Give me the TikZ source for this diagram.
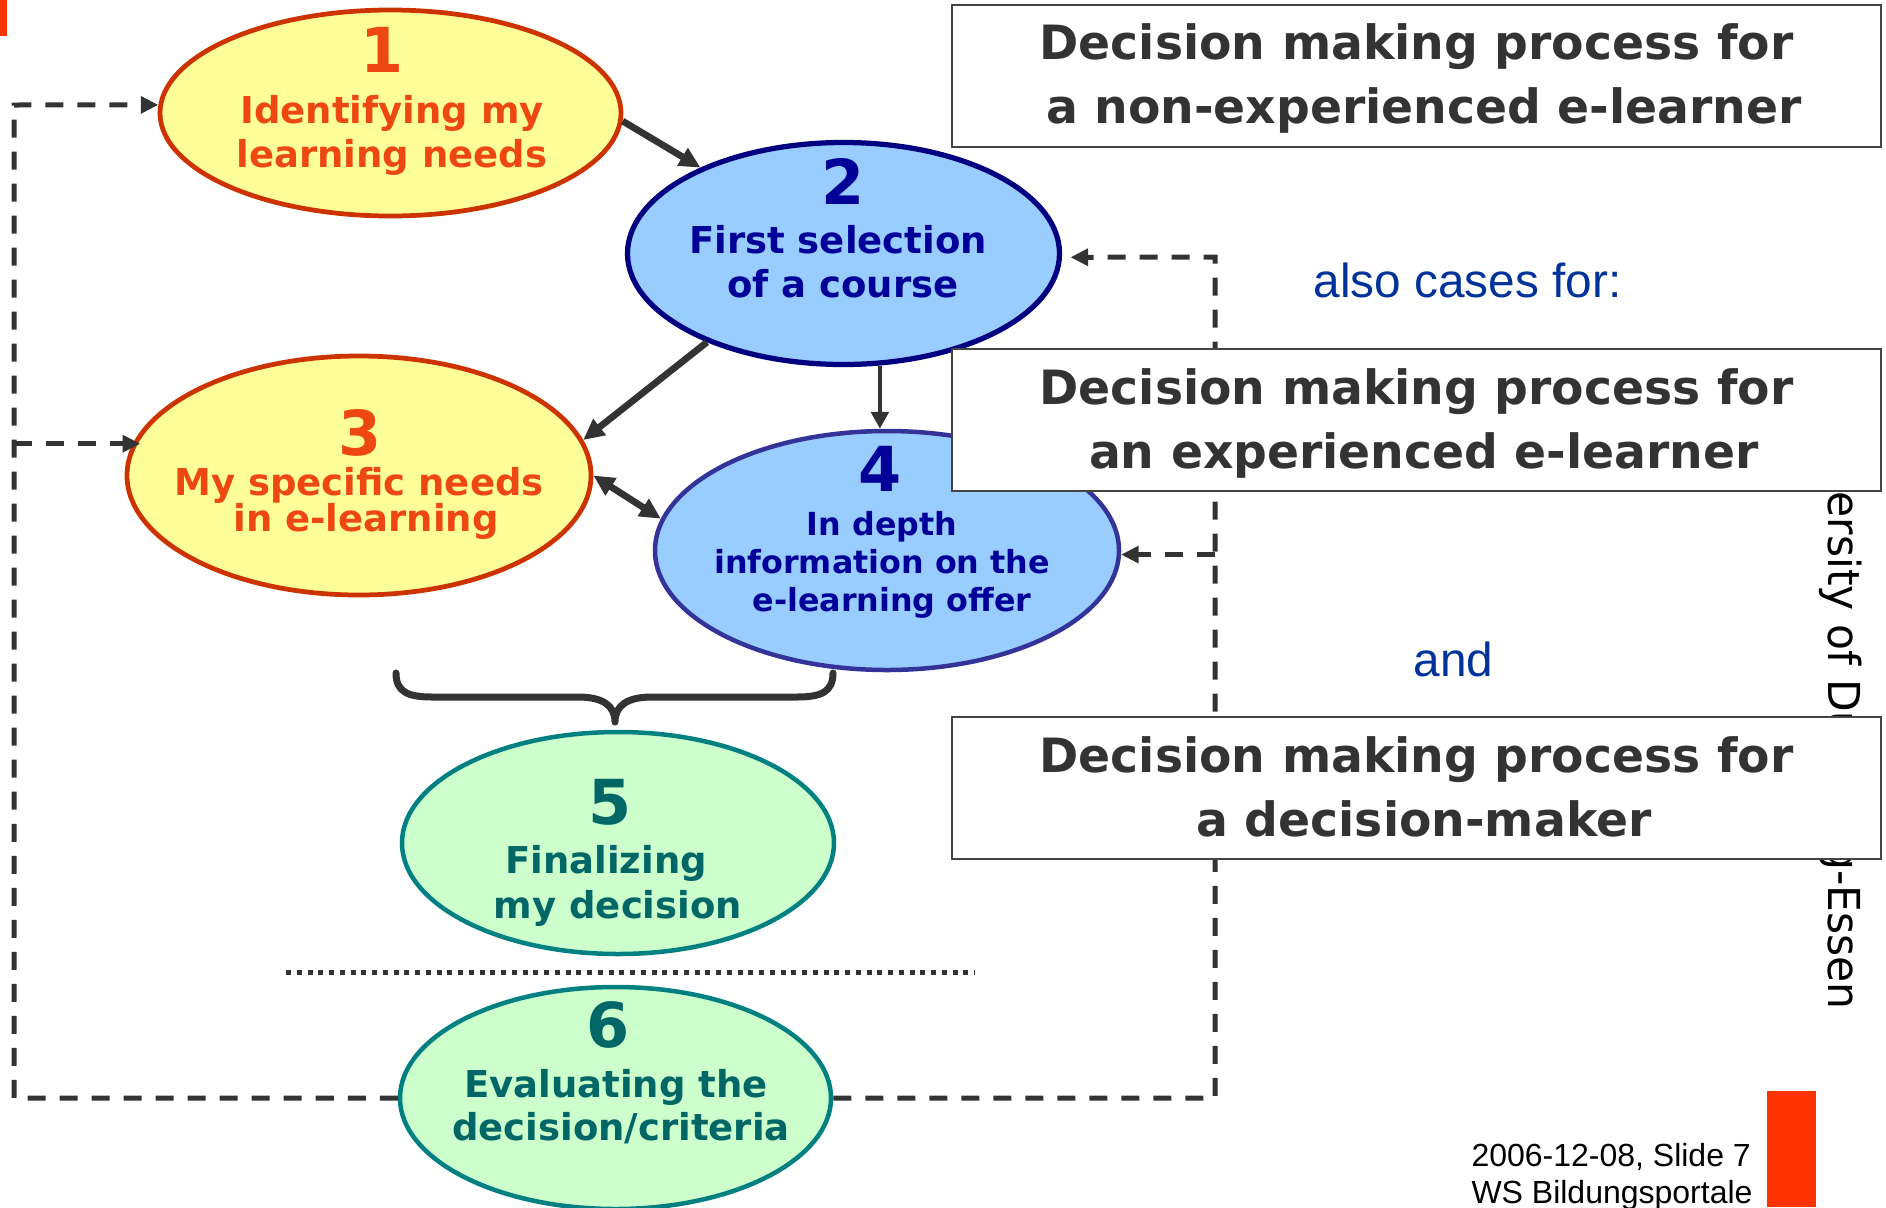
\documentclass[tikz,border=0pt]{standalone}
\usepackage{fontspec}
\usetikzlibrary{arrows.meta,shapes.geometric}
\newfontfamily\djv{DejaVu Sans}
\newfontfamily\arl{Liberation Sans}
\newfontfamily\vtf[FakeStretch=0.965]{DejaVu Sans}
\definecolor{ored}{HTML}{CC3300}
\definecolor{otext}{HTML}{EE4812}
\definecolor{yfill}{HTML}{FFFF99}
\definecolor{bfill}{HTML}{99CCFF}
\definecolor{navyb}{HTML}{000080}
\definecolor{btext}{HTML}{000099}
\definecolor{purp}{HTML}{333399}
\definecolor{gfill}{HTML}{CCFFCC}
\definecolor{tealb}{HTML}{008080}
\definecolor{gtext}{HTML}{006666}
\definecolor{dgray}{HTML}{333333}
\definecolor{boxborder}{HTML}{444444}
\definecolor{boxtext}{HTML}{333333}
\definecolor{blueb}{HTML}{003399}
\definecolor{redb}{HTML}{FF3300}
\tikzset{
  ellY/.style={ellipse, inner sep=0pt, fill=yfill, draw=ored, line width=1.9pt},
  ellB/.style={ellipse, inner sep=0pt, fill=bfill, draw=navyb, line width=2.1pt},
  ellP/.style={ellipse, inner sep=0pt, fill=bfill, draw=purp, line width=1.8pt},
  ellG/.style={ellipse, inner sep=0pt, fill=gfill, draw=tealb, line width=1.8pt},
  num/.style={anchor=base, inner sep=0pt, font=\djv\bfseries\fontsize{24.8pt}{24.8pt}\selectfont},
  lbl/.style={anchor=base, inner sep=0pt, font=\djv\bfseries\fontsize{14.8pt}{14.8pt}\selectfont},
  lblsmall/.style={anchor=base, inner sep=0pt, font=\djv\bfseries\fontsize{12.7pt}{12.7pt}\selectfont},
  sarrow/.style={dgray, line width=2.7pt, -{Triangle[length=8.4pt,width=7.8pt]}},
  tarrow/.style={dgray, line width=1.7pt, -{Triangle[length=6.8pt,width=7pt]}},
  darrow/.style={dgray, line width=2.7pt, {Triangle[length=8.4pt,width=7.8pt]}-{Triangle[length=8.4pt,width=7.8pt]}},
  dline/.style={dgray, line width=2pt, dash pattern=on 7.2pt off 5.6pt},
  dtip/.style={-{Triangle[length=7pt,width=6.6pt]}},
  boxst/.style={draw=boxborder, fill=white, line width=0.8pt, inner sep=0pt, minimum width=371.6pt, minimum height=56.8pt},
  boxtxt/.style={anchor=base, inner sep=0pt, text=boxtext, font=\djv\bfseries\fontsize{18.9pt}{18.9pt}\selectfont},
  bluetxt/.style={anchor=base west, inner sep=0pt, text=blueb, font=\arl\fontsize{19.1pt}{19.1pt}\selectfont},
  foot/.style={anchor=base west, inner sep=0pt, text=black, font=\arl\fontsize{12.8pt}{12.8pt}\selectfont},
}
\begin{document}
\begin{tikzpicture}[x=0.4pt,y=-0.4pt]
\useasboundingbox (0,0) rectangle (1886,1207);
\clip (0,0) rectangle (1886,1207);
\fill[white] (0,0) rectangle (1886,1207);
% orange marks
\fill[redb] (0,0) rectangle (7,36);
\fill[redb] (1767,1091) rectangle (1816,1207);
% vertical text
\node[anchor=base east, inner sep=0pt, rotate=-90, font=\vtf\fontsize{17.6pt}{17.6pt}\selectfont] (univ) at (1828,1010) {University of Duisburg-Essen};
% ellipses
\node[ellY, minimum width=184.4pt, minimum height=82.4pt] (e1) at (390.5,113) {};
\node[ellB, minimum width=172.8pt, minimum height=88.8pt] (e2) at (843.5,253.5) {};
\node[ellY, minimum width=185.6pt, minimum height=95.6pt] (e3) at (359,475.5) {};
\node[ellP, minimum width=185.6pt, minimum height=95.6pt] (e4) at (887,550.5) {};
\node[ellG, minimum width=172.8pt, minimum height=88.8pt] (e5) at (618,843) {};
\node[ellG, minimum width=172.4pt, minimum height=88.8pt] (e6) at (615.5,1098) {};
% dashed feedback loops
\coordinate (lb) at (14,1098);
\coordinate (lt) at (14,105);
\coordinate (rb) at (1215,1098);
\coordinate (rt) at (1215,257);
\draw[dline, dtip] (e6.west) -- (lb) -- (lt) -- (e1.178);
\draw[dline, dtip, shorten >=-3pt] (lt |- e3.172) -- (e3.172);
\draw[dline, dtip, shorten >=3.4pt] (e6.east) -- (rb) -- (rt) -- (e2.-1);
\draw[dline, dtip] (rt |- e4.-1) -- (e4.-1);
% solid arrows
\draw[sarrow] (e1.-2) -- (e2.149);
\draw[sarrow] (e2.213) -- (e3.9);
\draw[tarrow] (e2.-72) -- (e2.-72 |- e4.north);
\draw[darrow] (e3.0) -- (e4.172);
% brace
\draw[dgray, line width=2.8pt, line cap=round, line join=round]
  (396,673) .. controls (396,692) and (408,697) .. (432,697) -- (578,697)
  .. controls (602,697) and (615,705) .. (615,722)
  .. controls (615,705) and (628,697) .. (652,697) -- (797,697)
  .. controls (821,697) and (833,692) .. (833,673);
% dotted separator
\draw[dgray, line width=2pt, dash pattern=on 2pt off 2.3pt] (286,972) -- (975,972);
% ellipse texts
\node[num, text=otext] (n1) at (382,72) {1};
\node[lbl, text=otext] (t1a) at (392,123) {Identifying my};
\node[lbl, text=otext] (t1b) at (392,167) {learning needs};
\node[num, text=btext] (n2) at (843,204) {2};
\node[lbl, text=btext] (t2a) at (838,253) {First selection};
\node[lbl, text=btext] (t2b) at (843,297) {of a course};
\node[num, text=otext] (n3) at (360,455) {3};
\node[lbl, text=otext] (t3a) at (359,495) {My specific needs};
\node[lbl, text=otext] (t3b) at (366,531) {in e-learning};
\node[num, text=btext] (n4) at (880,491) {4};
\node[lblsmall, text=btext] (t4a) at (882,535) {In depth};
\node[lblsmall, text=btext] (t4b) at (882,573) {information on the};
\node[lblsmall, text=btext] (t4c) at (892,611) {e-learning offer};
\node[num, text=gtext] (n5) at (610,824) {5};
\node[lbl, text=gtext] (t5a) at (606,873) {Finalizing};
\node[lbl, text=gtext] (t5b) at (618,918) {my decision};
\node[num, text=gtext] (n6) at (608,1047) {6};
\node[lbl, text=gtext] (t6a) at (616,1097) {Evaluating the};
\node[lbl, text=gtext] (t6b) at (621,1140) {decision/criteria};
% boxes
\node[boxst] (b1) at (1416.5,75.5) {};
\node[boxtxt] (b1a) at (1416.5,59) {Decision making process for};
\node[boxtxt] (b1b) at (1424,123) {a non-experienced e-learner};
\node[boxst] (b2) at (1416.5,420) {};
\node[boxtxt] (b2a) at (1416.5,404) {Decision making process for};
\node[boxtxt] (b2b) at (1424,468) {an experienced e-learner};
\node[boxst] (b3) at (1416.5,788) {};
\node[boxtxt] (b3a) at (1416.5,772) {Decision making process for};
\node[boxtxt] (b3b) at (1424,836) {a decision-maker};
% blue texts
\node[bluetxt] (also) at (1313,297) {also cases for:};
\node[bluetxt] (and) at (1413,676) {and};
% footer
\node[foot] (f1) at (1471,1166) {2006-12-08, Slide 7};
\node[foot] (f2) at (1471,1203) {WS Bildungsportale};
\end{tikzpicture}
\end{document}
